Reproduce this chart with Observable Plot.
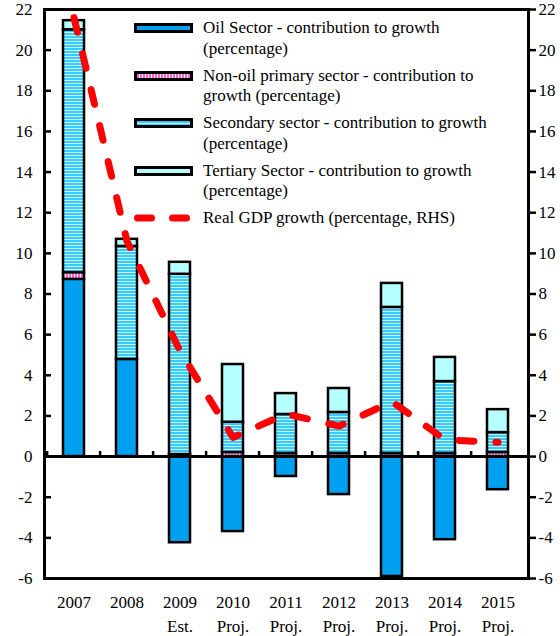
<!DOCTYPE html>
<html><head><meta charset="utf-8">
<script src="https://cdn.jsdelivr.net/npm/d3@7"></script>
<script src="https://cdn.jsdelivr.net/npm/@observablehq/plot@0.6"></script>
<style>
body{margin:0;background:#fff;font-family:"Liberation Serif","Times New Roman",Tinos,"DejaVu Serif",serif;}
#wrap{position:relative;width:560px;height:636px;}
#wrap svg text{font-family:"Liberation Serif","Times New Roman",Tinos,"DejaVu Serif",serif;}
#legend{position:absolute;left:134px;top:18px;font-size:17px;line-height:20.5px;color:#000;white-space:nowrap;}
.item{display:flex;align-items:flex-start;margin-bottom:6.5px;}
.item svg{flex:none;margin-top:5px;margin-right:10px;}
</style></head><body>
<svg width="0" height="0" style="position:absolute">
<defs>
<pattern id="secPat" patternUnits="userSpaceOnUse" width="6" height="3"><rect width="6" height="3" fill="#cdf6ff"/><rect width="6" height="2" fill="#33ccff"/></pattern>
<pattern id="pinkPat" patternUnits="userSpaceOnUse" width="3" height="6"><rect width="3" height="6" fill="#ffffff"/><rect width="2" height="6" fill="#ff5fc8"/></pattern>
</defs></svg>
<div id="wrap"><div id="legend"></div></div>
<script>
const years = ["2007","2008","2009","2010","2011","2012","2013","2014","2015"];
const yearLabels = ["2007","2008","2009\nEst.","2010\nProj.","2011\nProj.","2012\nProj.","2013\nProj.","2014\nProj.","2015\nProj."];
const oil       = [8.72, 4.78, -4.24, -3.69, -0.98, -1.87, -5.90, -4.09, -1.63];
const nonOil    = [0.33, 0.00, 0.10, 0.20, 0.15, 0.15, 0.15, 0.15, 0.20];
const secondary = [11.95, 5.56, 8.87, 1.49, 1.92, 2.02, 7.19, 3.54, 0.98];
const tertiary  = [0.45, 0.35, 0.59, 2.84, 1.03, 1.18, 1.18, 1.19, 1.13];
const gdp       = [21.6, 10.6, 5.2, 0.94, 2.1, 1.5, 2.7, 0.83, 0.7];
const sectorNames = [
  "Oil Sector - contribution to growth (percentage)",
  "Non-oil primary sector - contribution to growth (percentage)",
  "Secondary sector - contribution to growth (percentage)",
  "Tertiary Sector - contribution to growth (percentage)"
];
const legendLabels = [
  "Oil Sector - contribution to growth<br>(percentage)",
  "Non-oil primary sector - contribution to<br>growth (percentage)",
  "Secondary sector - contribution to growth<br>(percentage)",
  "Tertiary Sector - contribution to growth<br>(percentage)",
  "Real GDP growth (percentage, RHS)"
];
const sectorFills = ["#00a0f0", "url(#pinkPat)", "url(#secPat)", "#b5ffff"];
const yTicks = d3.range(-6, 23, 2);

const series = [oil, nonOil, secondary, tertiary];
const rows = [];
years.forEach((yr, i) => series.forEach((s, k) => rows.push({year: yr, sector: sectorNames[k], value: s[i]})));
const gdpRows = years.map((yr, i) => ({year: yr, g: gdp[i]}));

const W = 560, H = 636, mL = 44, mR = 32, mT = 9, mB = 58;
const step = (W - mL - mR) / years.length;
const FONT = '"Liberation Serif", "Times New Roman", Tinos, "DejaVu Serif", serif';

const chart = Plot.plot({
  width: W, height: H,
  marginLeft: mL, marginRight: mR, marginTop: mT, marginBottom: mB,
  style: {fontFamily: FONT, fontSize: "17px", color: "#000", background: "#fff"},
  x: {domain: years, paddingInner: 0.6, paddingOuter: 0.3, axis: null, label: null},
  y: {domain: [-6, 22], axis: null, label: null},
  color: {domain: sectorNames, range: sectorFills},
  marks: [
    Plot.barY(rows, {x: "year", y: "value", fill: "sector", stroke: "#000", strokeWidth: 2.5}),
    Plot.ruleY([0], {stroke: "#000", strokeWidth: 3}),
    Plot.ruleX(years, {x: d => d, dx: -step / 2, y1: 0, y2: 0.25, stroke: "#000", strokeWidth: 2.5}),
    Plot.line(gdpRows, {x: "year", y: "g", stroke: "#ff0000", strokeWidth: 7, strokeDasharray: "15,22", strokeLinecap: "round", strokeLinejoin: "round"}),
    Plot.tickY(yTicks, {y: d => d, insetRight: W - mL - mR - 7, stroke: "#000", strokeWidth: 2.5}),
    Plot.axisY(yTicks, {anchor: "left", tickSize: 0, tickPadding: 12, fontSize: 17, label: null, tickFormat: d => String(d)}),
    Plot.axisY(yTicks, {anchor: "right", tickSize: 7, tickPadding: 3, strokeWidth: 2.5, fontSize: 17, label: null, tickFormat: d => String(d)}),
    Plot.axisX({anchor: "bottom", tickSize: 0, tickPadding: 13, fontSize: 17, lineHeight: 1.4, label: null, tickFormat: d => yearLabels[years.indexOf(d)]}),
    Plot.frame({stroke: "#000", strokeWidth: 3})
  ]
});
document.getElementById("wrap").prepend(chart);

const legend = document.getElementById("legend");
legendLabels.forEach((lab, i) => {
  const item = document.createElement("div");
  item.className = "item";
  let sw;
  if (i < 4) {
    sw = `<svg width="59" height="10"><rect x="1.5" y="1.5" width="56" height="7" fill="${sectorFills[i]}" stroke="#000" stroke-width="3"/></svg>`;
  } else {
    sw = `<svg width="59" height="10"><line x1="3.5" y1="5" x2="57" y2="5" stroke="#ff0000" stroke-width="7" stroke-dasharray="14,21" stroke-linecap="round"/></svg>`;
  }
  item.innerHTML = sw + `<span>${lab}</span>`;
  legend.appendChild(item);
});
</script>
</body></html>
